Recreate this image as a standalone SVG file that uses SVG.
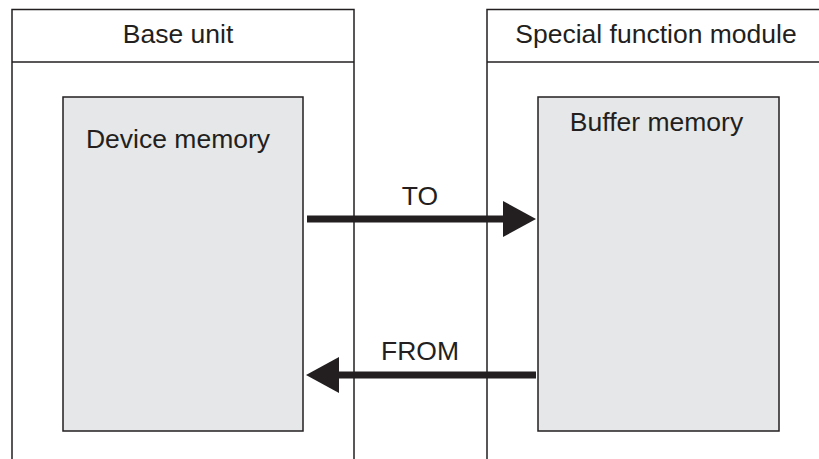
<svg xmlns="http://www.w3.org/2000/svg" width="819" height="459" viewBox="0 0 819 459">
  <style>
    .outer { fill: #ffffff; stroke: #231f20; stroke-width: 1.5; }
    .mem { fill: #e6e7e8; stroke: #231f20; stroke-width: 1.5; }
    .hdr { stroke: #231f20; stroke-width: 1.5; }
    .txt { font-family: "Liberation Sans", Arial, sans-serif; font-size: 26.5px; fill: #231f20; text-anchor: middle; }
    .arrow { stroke: #231f20; stroke-width: 7; fill: none; }
  </style>
  <defs>
    <marker id="head" viewBox="0 0 33 36" markerWidth="33" markerHeight="36" refX="7" refY="18" orient="auto" markerUnits="userSpaceOnUse">
      <path d="M0,0 L33,18 L0,36 Z" fill="#231f20"/>
    </marker>
  </defs>
  <rect width="819" height="459" fill="#ffffff"/>
  <g id="base-unit">
    <rect class="outer" x="12" y="9.5" width="342" height="460"/>
    <line class="hdr" x1="12" y1="62" x2="354" y2="62"/>
    <text class="txt" x="178" y="43">Base unit</text>
  </g>
  <g id="special-function-module">
    <rect class="outer" x="487" y="9.5" width="340" height="460"/>
    <line class="hdr" x1="487" y1="62" x2="819" y2="62"/>
    <text class="txt" x="656" y="43">Special function module</text>
  </g>
  <g id="device-memory">
    <rect class="mem" x="63" y="97" width="240" height="334"/>
    <text class="txt" x="178" y="148">Device memory</text>
  </g>
  <g id="buffer-memory">
    <rect class="mem" x="538" y="97" width="241" height="334"/>
    <text class="txt" x="656.5" y="131">Buffer memory</text>
  </g>
  <g id="connectors">
    <line class="arrow" x1="307" y1="219" x2="510" y2="219" marker-end="url(#head)"/>
    <text class="txt" x="420" y="205">TO</text>
    <line class="arrow" x1="536" y1="375" x2="332" y2="375" marker-end="url(#head)"/>
    <text class="txt" x="420" y="360">FROM</text>
  </g>
</svg>
